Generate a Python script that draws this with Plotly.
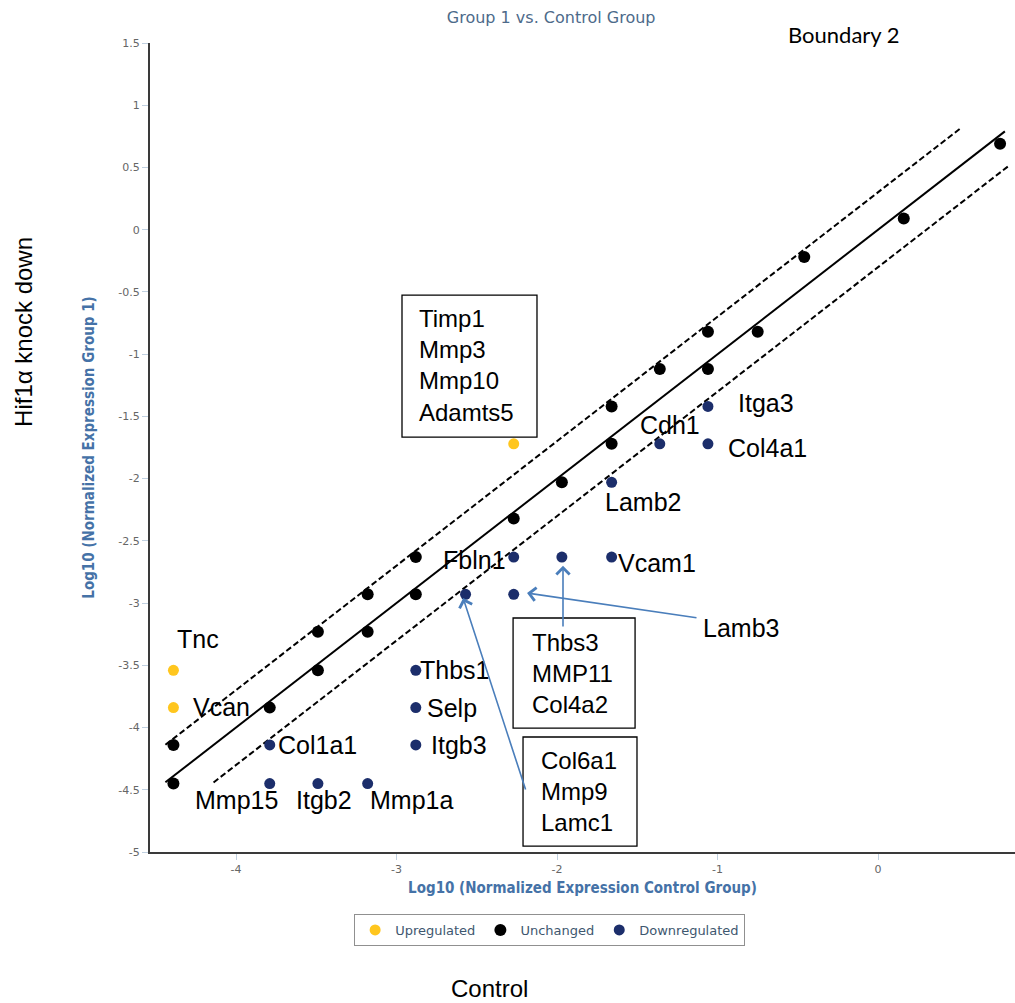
import plotly.graph_objects as go
import math

# ---------------- data ----------------
up_x = [-4.39, -4.39, -2.27]
up_y = [-3.54, -3.84, -1.72]

unch_x = [-4.39, -4.39, -3.79, -3.49, -3.49, -3.18, -3.18, -2.88, -2.88, -2.27,
          -1.97, -1.66, -1.66, -1.36, -1.06, -1.06, -0.75, -0.46, 0.16, 0.76]
unch_y = [-4.14, -4.45, -3.84, -3.23, -3.54, -3.23, -2.93, -2.93, -2.63, -2.32,
          -2.03, -1.72, -1.42, -1.12, -1.12, -0.82, -0.82, -0.22, 0.09, 0.69]

down_x = [-3.79, -3.79, -3.49, -3.18, -2.88, -2.88, -2.88, -2.57, -2.27, -2.27,
          -1.97, -1.66, -1.66, -1.36, -1.06, -1.06]
down_y = [-4.14, -4.45, -4.45, -4.45, -3.54, -3.84, -4.14, -2.93, -2.93, -2.63,
          -2.63, -2.63, -2.03, -1.72, -1.72, -1.42]

fold = math.log10(2)
mid_line_x = [-4.44, 0.79]
upper_line_x = [-4.44, 0.51]
lower_line_x = [-4.14, 0.82]

x_tick_vals = [-4, -3, -2, -1, 0]
x_tick_text = ["-4", "-3", "-2", "-1", "0"]
y_tick_vals = [1.5, 1, 0.5, 0, -0.5, -1, -1.5, -2, -2.5, -3, -3.5, -4, -4.5, -5]
y_tick_text = ["1.5", "1", "0.5", "0", "-0.5", "-1", "-1.5", "-2", "-2.5", "-3",
               "-3.5", "-4", "-4.5", "-5"]

# gene labels (text, x, y)
gene_labels = [
    ("Tnc", -4.237, -3.289), ("Vcan", -4.091, -3.835), ("Col1a1", -3.492, -4.140),
    ("Mmp15", -4.000, -4.582), ("Itgb2", -3.455, -4.582), ("Mmp1a", -2.907, -4.582),
    ("Thbs1", -2.639, -3.538), ("Selp", -2.654, -3.843), ("Itgb3", -2.614, -4.140),
    ("Fbln1", -2.517, -2.654), ("Vcam1", -1.380, -2.678), ("Lamb3", -0.851, -3.200),
    ("Lamb2", -1.467, -2.188), ("Cdh1", -1.299, -1.569), ("Col4a1", -0.689, -1.754),
    ("Itga3", -0.698, -1.393),
]

# boxed label groups: (text, text_left_x, text_center_y, box x0, x1, y0, y1)
box_groups = [
    ("Timp1<br>Mmp3<br>Mmp10<br>Adamts5", -2.872, -1.095, -2.966, -2.125, -1.666, -0.525),
    ("Thbs3<br>MMP11<br>Col4a2", -2.168, -3.562, -2.274, -1.514, -4.004, -3.120),
    ("Col6a1<br>Mmp9<br>Lamc1", -2.112, -4.510, -2.212, -1.502, -4.952, -4.076),
]

# arrows: (head x, head y, tail x, tail y)
arrows = [
    (-2.585, -2.96, -2.193, -4.510),
    (-2.187, -2.919, -1.122, -3.120),
    (-1.963, -2.70, -1.963, -3.200),
]

YELLOW = "#FFC61E"
BLACK = "#000000"
NAVY = "#1C2E6B"
LABEL_FONT = dict(family="Liberation Sans, Arial", size=25, color="#000000")
BOX_FONT = dict(family="Liberation Sans, Arial", size=24, color="#000000")

fig = go.Figure()

# boundary lines
fig.add_trace(go.Scatter(x=mid_line_x, y=[v for v in mid_line_x], mode="lines",
                         line=dict(color="black", width=2), showlegend=False, hoverinfo="skip"))
fig.add_trace(go.Scatter(x=upper_line_x, y=[v + fold for v in upper_line_x], mode="lines",
                         line=dict(color="black", width=2, dash="6px,3px"), showlegend=False,
                         hoverinfo="skip"))
fig.add_trace(go.Scatter(x=lower_line_x, y=[v - fold for v in lower_line_x], mode="lines",
                         line=dict(color="black", width=2, dash="6px,3px"), showlegend=False,
                         hoverinfo="skip"))

fig.add_trace(go.Scatter(x=up_x, y=up_y, mode="markers", name="Upregulated",
                         marker=dict(color=YELLOW, size=11)))
fig.add_trace(go.Scatter(x=unch_x, y=unch_y, mode="markers", name="Unchanged",
                         marker=dict(color=BLACK, size=12)))
fig.add_trace(go.Scatter(x=down_x, y=down_y, mode="markers", name="Downregulated",
                         marker=dict(color=NAVY, size=11)))

annotations = []
for t, x, y in gene_labels:
    annotations.append(dict(x=x, y=y, xref="x", yref="y", text=t, showarrow=False,
                            font=LABEL_FONT, xanchor="center", yanchor="middle"))

shapes = []
for t, tx, ty, x0, x1, y0, y1 in box_groups:
    shapes.append(dict(type="rect", xref="x", yref="y", x0=x0, x1=x1, y0=y0, y1=y1,
                       line=dict(color="black", width=1.3), fillcolor="rgba(0,0,0,0)"))
    annotations.append(dict(x=tx, y=ty, xref="x", yref="y", text=t, showarrow=False,
                            font=BOX_FONT, xanchor="left", yanchor="middle", align="left"))

for hx, hy, tx, ty in arrows:
    annotations.append(dict(x=hx, y=hy, ax=tx, ay=ty, xref="x", yref="y", axref="x", ayref="y",
                            text="", showarrow=True, arrowhead=4, arrowsize=1.6,
                            arrowwidth=1.6, arrowcolor="#4A7EBB"))

# outer texts
annotations.append(dict(x=-0.1457, y=0.6428, xref="paper", yref="paper", text="Hif1α knock down",
                        textangle=-90, showarrow=False, font=dict(family="Liberation Sans, Arial", size=24, color="black"),
                        xanchor="center", yanchor="middle"))
annotations.append(dict(x=0.392, y=-0.1693, xref="paper", yref="paper", text="Control",
                        showarrow=False, font=dict(family="Liberation Sans, Arial", size=24, color="black"),
                        xanchor="center", yanchor="middle"))
annotations.append(dict(x=0.802, y=1.0105, xref="paper", yref="paper", text="Boundary 2",
                        showarrow=False, font=dict(family="Lato, Open Sans", size=22, color="black"),
                        xanchor="center", yanchor="middle"))

AXIS_TITLE_FONT = dict(family="DejaVu Sans Condensed, Liberation Sans Narrow", size=15,
                       color="#4572A7", weight="bold")

fig.update_layout(
    width=1015, height=1003,
    margin=dict(l=150, r=0, t=43, b=151),
    plot_bgcolor="white", paper_bgcolor="white",
    title=dict(text="Group 1 vs. Control Group", x=0.543, xanchor="center", y=0.983,
               yanchor="middle", xref="container", yref="container",
               font=dict(family="DejaVu Sans", size=16, color="#4D6A8A")),
    xaxis=dict(range=[-4.536, 0.853], tickvals=x_tick_vals, ticktext=x_tick_text,
               showgrid=False, zeroline=False, showline=True, linecolor="#3A3A3A", linewidth=2,
               ticks="outside", tickcolor="#C0D0E0", ticklen=6, tickwidth=1,
               tickfont=dict(family="DejaVu Sans", size=11, color="#666666"),
               title=dict(text="Log10 (Normalized Expression Control Group)", font=AXIS_TITLE_FONT,
                          standoff=7)),
    yaxis=dict(range=[-5, 1.5], tickvals=y_tick_vals, ticktext=y_tick_text,
               showgrid=False, zeroline=False, showline=True, linecolor="#3A3A3A", linewidth=2,
               ticks="outside", tickcolor="#C0D0E0", ticklen=6, tickwidth=1,
               tickfont=dict(family="DejaVu Sans", size=11, color="#666666"),
               title=dict(text="Log10 (Normalized Expression Group 1)", font=AXIS_TITLE_FONT,
                          standoff=20)),
    legend=dict(orientation="h", x=0.462, xanchor="center", y=-0.0964, yanchor="middle",
                bordercolor="#909090", borderwidth=1, bgcolor="white",
                font=dict(family="DejaVu Sans", size=13, color="#3E576F")),
    annotations=annotations,
    shapes=shapes,
)

fig.write_html("out.html", config={"displayModeBar": False},
               post_script="document.body.style.margin='0';")
